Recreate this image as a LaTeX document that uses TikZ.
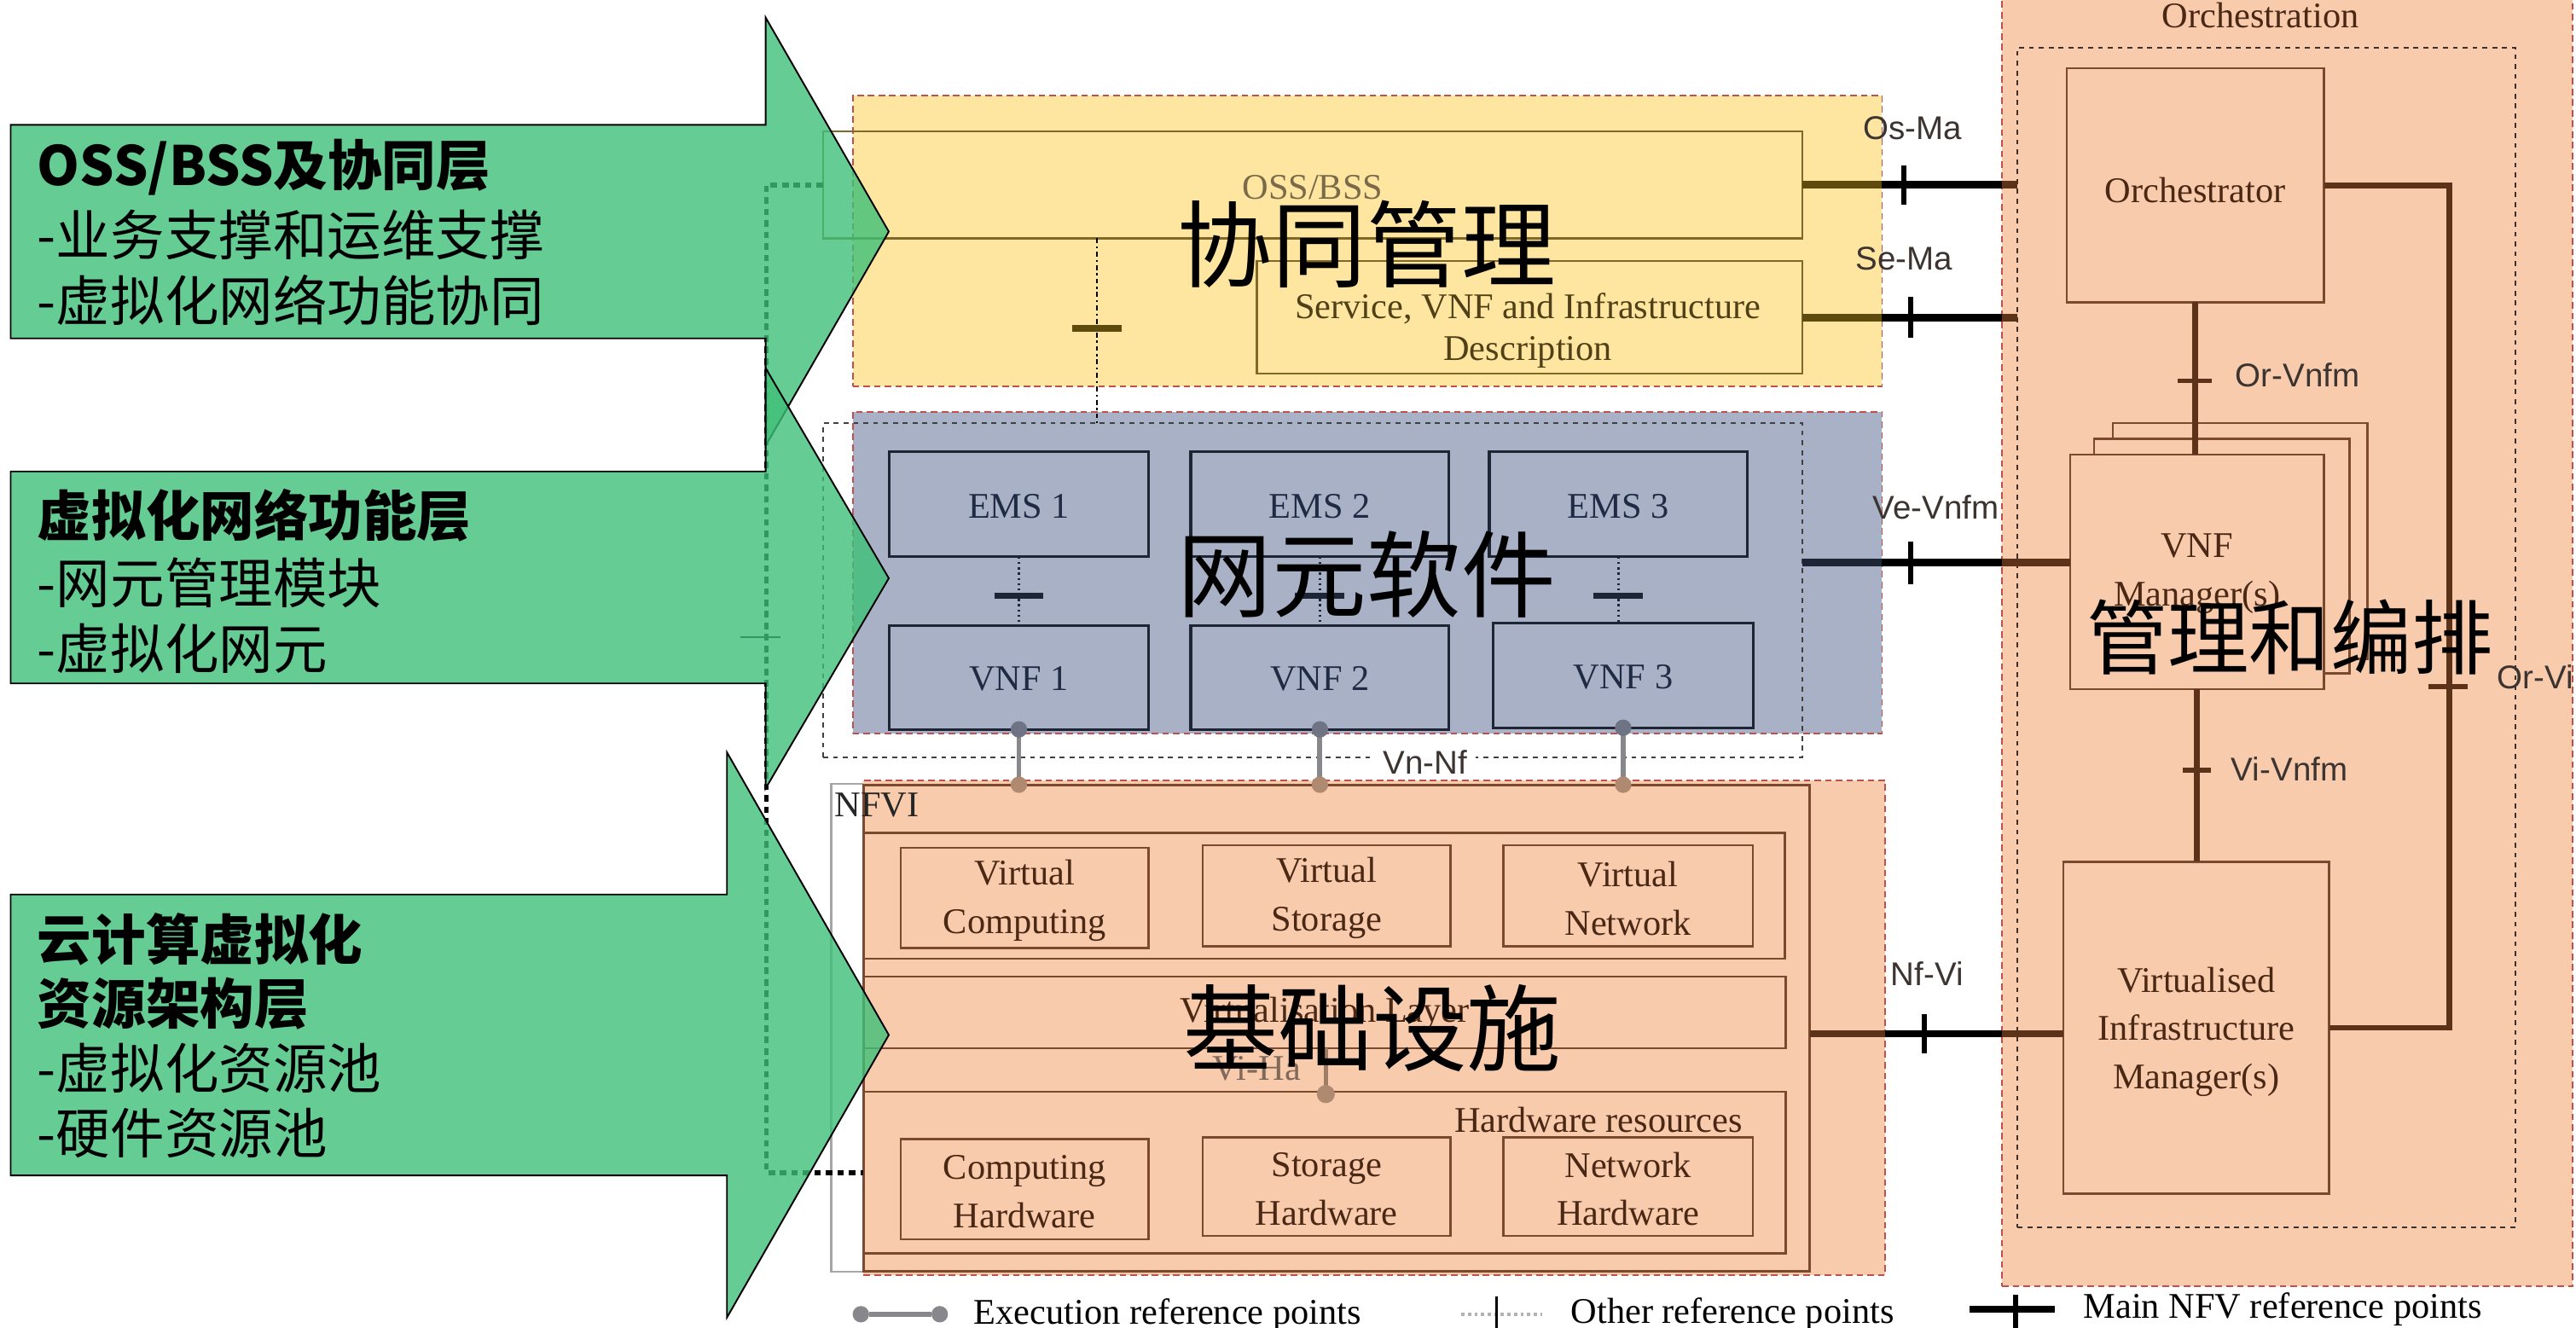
\documentclass[tikz,border=0pt]{standalone}
\usepackage{fontspec}
\setmainfont{Liberation Serif}
\newfontfamily\sansf{Liberation Sans}
\newfontfamily\cjk{Noto Sans CJK SC}
\usetikzlibrary{fit,calc}

\definecolor{arrowgreen}{RGB}{62,192,120}
\definecolor{layeryellow}{RGB}{255,230,160}
\definecolor{layerblue}{RGB}{169,177,198}
\definecolor{layersalmon}{RGB}{248,203,173}
\definecolor{zonered}{RGB}{192,80,77}
\definecolor{oliveline}{RGB}{94,74,12}
\definecolor{yboxline}{RGB}{128,104,40}
\definecolor{navyline}{RGB}{30,38,54}
\definecolor{brownline}{RGB}{92,50,24}
\definecolor{boxbrown}{RGB}{123,74,46}
\definecolor{textbrown}{RGB}{74,40,20}
\definecolor{textnavy}{RGB}{31,42,68}
\definecolor{textolive}{RGB}{80,64,24}
\definecolor{textossbss}{RGB}{122,106,74}
\definecolor{refgray}{RGB}{60,52,48}
\definecolor{execgray}{RGB}{135,135,140}
\definecolor{execblue}{RGB}{110,116,132}
\definecolor{execbrown}{RGB}{176,138,112}
\definecolor{darkdash}{RGB}{60,48,44}

\begin{document}
\begin{tikzpicture}[x=1pt,y=-1pt,
  frame/.style={inner sep=0pt,outer sep=0pt},
  zone/.style={frame,draw=zonered,line width=1pt,dash pattern=on 4pt off 2.5pt},
  ybox/.style={frame,draw=yboxline,line width=1.3pt},
  nbox/.style={frame,draw=navyline,line width=1.6pt},
  sbox/.style={frame,draw=boxbrown,line width=1.3pt},
  txt/.style={inner sep=0pt,font=\fontsize{22}{29.5}\selectfont,align=center},
  ntxt/.style={txt,text=textnavy},
  btxt/.style={txt,text=textbrown},
  reflbl/.style={inner sep=0pt,font=\sansf\fontsize{20}{22}\selectfont,text=refgray},
  bigcn/.style={inner sep=0pt,font=\cjk\fontsize{57.5}{60}\selectfont},
  armhead/.style={inner sep=0pt,anchor=west,font=\cjk\bfseries\fontsize{33}{40}\selectfont},
  armsub/.style={inner sep=0pt,anchor=west,font=\cjk\fontsize{33}{40}\selectfont},
  layerarrow/.style={fill=arrowgreen,fill opacity=0.8,draw=black,line width=1pt},
  mainlink/.style={line width=4.5pt},
  maintick/.style={line width=3pt,draw=black},
  innerlink/.style={line width=3.5pt,draw=brownline},
  innertick/.style={line width=3pt,draw=brownline},
  otherlink/.style={line width=1.2pt,dotted,draw=navyline},
  othertick/.style={line width=3.5pt,draw=navyline},
  execlink/.style={line width=3pt,draw=execgray},
  execdot/.style={circle,fill=#1,inner sep=0pt,outer sep=0pt,minimum size=10pt},
]
\useasboundingbox (0,0) rectangle (1568,808);

% ---------- management and orchestration zone ----------
\node[zone,fill=layersalmon,fit={(1218.6,-5) (1566,783)}] (mano) {};
\node[frame,draw=darkdash,dashed,line width=1pt,fit={(1228,29) (1531,747)}] (manoin) {};
\node[btxt] (manolbl) at (1376,9.5) {Orchestration};

% ---------- layer zones ----------
\node[zone,fill=layeryellow,fit={(519,58) (1145.6,235)}] (osszone) {};
\node[zone,fill=layerblue,fit={(519,250.6) (1145.6,446.5)}] (vnfzone) {};
\node[frame,draw=gray!70,line width=1.2pt,fill=white,fit={(506,477) (1101.6,774)}] (nfvi) {};
\node[zone,fill=layersalmon,fit={(525.6,475) (1147.5,776)}] (nfvizone) {};
\node[frame,draw=boxbrown,line width=1.5pt,fit={(525.6,477.7) (1101.6,774)}] (nfvibody) {};
\node[txt,anchor=west,text=black!85] (nfvilbl) at (508,490) {NFVI};

% ---------- OSS/BSS layer ----------
\node[ybox,fit={(501,80) (1097,145)}] (oss) {};
\node[txt,text=textossbss] (osslbl) at (799,114) {OSS/BSS};
\node[ybox,fit={(765,159) (1097,227.5)}] (svc) {};
\node[txt,text=textolive] (svc1) at (930,188) {Service, VNF and Infrastructure};
\node[txt,text=textolive] (svc2) at (930,214.5) {Description};

% ---------- VNF layer ----------
\node[frame,draw=black!75,dashed,line width=1.2pt,fit={(501,257.5) (1097,461)}] (vnfdom) {};
\node[nbox,fit={(541.4,275) (699,339)}] (ems1) {};
\node[nbox,fit={(724.8,275) (882,339)}] (ems2) {};
\node[nbox,fit={(906.5,275) (1063.7,339)}] (ems3) {};
\node[nbox,fit={(541.4,380.7) (699,444)}] (vnf1) {};
\node[nbox,fit={(724.8,380.7) (882,444)}] (vnf2) {};
\node[nbox,fit={(909,379.4) (1067,443)}] (vnf3) {};
\node[ntxt] (ems1t) at ($(ems1.center)+(0,1)$) {EMS 1};
\node[ntxt] (ems2t) at ($(ems2.center)+(0,1)$) {EMS 2};
\node[ntxt] (ems3t) at ($(ems3.center)+(0,1)$) {EMS 3};
\node[ntxt] (vnf1t) at ($(vnf1.center)+(0,1)$) {VNF 1};
\node[ntxt] (vnf2t) at ($(vnf2.center)+(0,1)$) {VNF 2};
\node[ntxt] (vnf3t) at ($(vnf3.center)+(0,1)$) {VNF 3};

% ---------- NFVI ----------
\node[sbox,fit={(525.6,507) (1086.5,583.6)}] (virtres) {};
\node[sbox,fit={(548.3,516) (699,577)}] (vcomp) {};
\node[sbox,fit={(732,514.6) (883,576)}] (vstor) {};
\node[sbox,fit={(915,514.6) (1067,576)}] (vnet) {};
\node[btxt] (vcompt) at ($(vcomp.center)+(0,1.5)$) {Virtual\\Computing};
\node[btxt] (vstort) at ($(vstor.center)+(0,1.5)$) {Virtual\\Storage};
\node[btxt] (vnett) at ($(vnet.center)+(0,1.5)$) {Virtual\\Network};
\node[sbox,fit={(525.6,594.5) (1087,638)}] (vlayer) {};
\node[btxt] (vlayert) at ($(vlayer.center)+(0,1)$) {Virtualisation Layer};
\node[sbox,fit={(525.6,664.6) (1087,763)}] (hwres) {};
\node[btxt] (hwlbl) at (973,681.5) {Hardware resources};
\node[sbox,fit={(548.3,693.5) (699,754.4)}] (hcomp) {};
\node[sbox,fit={(732,692.4) (883,752.2)}] (hstor) {};
\node[sbox,fit={(915,692.4) (1067,752.2)}] (hnet) {};
\node[btxt] (hcompt) at ($(hcomp.center)+(0,1.5)$) {Computing\\Hardware};
\node[btxt] (hstort) at ($(hstor.center)+(0,1.5)$) {Storage\\Hardware};
\node[btxt] (hnett) at ($(hnet.center)+(0,1.5)$) {Network\\Hardware};

% ---------- MANO boxes ----------
\node[sbox,fit={(1258,41.6) (1414.6,184)}] (orch) {};
\node[btxt] (orcht) at ($(orch.center)+(0,3)$) {Orchestrator};
\node[sbox,fill=layersalmon,fit={(1286,257.5) (1441,401)}] (vnfmC) {};
\node[sbox,fill=layersalmon,fit={(1274.7,267) (1430,410)}] (vnfmB) {};
\node[sbox,fill=layersalmon,fit={(1260,276.8) (1414.6,419.6)}] (vnfm) {};
\node[btxt] (vnfmt) at ($(vnfm.center)+(0,1)$) {VNF\\Manager(s)};
\node[sbox,fit={(1256,524.6) (1417.8,726.6)}] (vim) {};
\node[btxt] (vimt) at ($(vim.center)+(0,2.5)$) {Virtualised\\Infrastructure\\Manager(s)};

% ---------- main reference points ----------
% Os-Ma
\coordinate (osmaA) at (oss.east -| osszone.east);
\coordinate (osmaB) at (oss.east -| mano.west);
\coordinate (osmaC) at (oss.east -| manoin.west);
\draw[mainlink,oliveline] (oss.east) -- (osmaA);
\draw[mainlink,black] (osmaA) -- (osmaB);
\draw[mainlink,brownline] (osmaB) -- (osmaC);
\draw[maintick] ($(osmaA)+(13.4,-12)$) -- ++(0,24);
\node[reflbl] (lOsMa) at (1164,78) {Os-Ma};
% Se-Ma
\coordinate (semaA) at (svc.east -| osszone.east);
\coordinate (semaB) at (svc.east -| mano.west);
\coordinate (semaC) at (svc.east -| manoin.west);
\draw[mainlink,oliveline] (svc.east) -- (semaA);
\draw[mainlink,black] (semaA) -- (semaB);
\draw[mainlink,brownline] (semaB) -- (semaC);
\draw[maintick] ($(semaA)+(17.4,-12.5)$) -- ++(0,25);
\node[reflbl] (lSeMa) at (1159,157.6) {Se-Ma};
% Ve-Vnfm
\coordinate (veA) at (1097,342.5);
\coordinate (veB) at (veA -| vnfzone.east);
\coordinate (veC) at (veA -| mano.west);
\coordinate (veD) at (veA -| vnfm.west);
\draw[mainlink,navyline] (veA) -- (veB);
\draw[mainlink,black] (veB) -- (veC);
\draw[mainlink,brownline] (veC) -- (veD);
\draw[maintick] ($(veB)+(17.4,-13)$) -- ++(0,26);
\node[reflbl] (lVeVnfm) at (1178.5,308.6) {Ve-Vnfm};
% Nf-Vi
\coordinate (nfA) at (1101.6,629.3);
\coordinate (nfB) at (nfA -| nfvizone.east);
\coordinate (nfC) at (nfA -| mano.west);
\coordinate (nfD) at (nfA -| vim.west);
\draw[mainlink,brownline] (nfA) -- (nfB);
\draw[mainlink,black] (nfB) -- (nfC);
\draw[mainlink,brownline] (nfC) -- (nfD);
\draw[maintick] ($(nfB)+(23.9,-12)$) -- ++(0,24);
\node[reflbl] (lNfVi) at (1173,592.8) {Nf-Vi};

% ---------- links inside MANO ----------
\draw[innerlink] (orch.south) -- (orch.south |- vnfm.north);
\draw[innertick] ($(orch.south)+(-11,47.8)$) -- ++(21,0);
\node[reflbl,anchor=west] (lOrVnfm) at (1360.5,228.4) {Or-Vnfm};
\draw[innerlink] (vnfm.south) -- (vnfm.south |- vim.north);
\draw[innertick] ($(vnfm.south)+(-8.5,49.4)$) -- ++(17,0);
\node[reflbl,anchor=west] (lViVnfm) at (1358,468) {Vi-Vnfm};
\coordinate (orviTop) at (1491,112.8);
\draw[innerlink] (orch.east) -- (orviTop) |- (vim.east);
\draw[innertick] ($(orviTop)+(-13,305.2)$) -- ++(24,0);
\node[reflbl,anchor=west] (lOrVi) at (1520,412) {Or-Vi};

% ---------- other reference points ----------
\coordinate (ossD) at (667.7,145);
\draw[black,line width=1.2pt,dash dot] (ossD) -- (ossD |- vnfdom.north);
\draw[oliveline,line width=4pt] ($(ossD)+(-15,55)$) -- ++(30,0);
\foreach \e/\v in {ems1/vnf1,ems2/vnf2,ems3/vnf3}{
  \draw[otherlink] (\e.south) -- (\e.south |- \v.north);
  \draw[othertick] ($(\e.south)+(-15,23.5)$) -- ++(30,0);
}

% ---------- execution reference points ----------
\foreach \v/\n in {vnf1/a,vnf2/b,vnf3/c}{
  \coordinate (exTop\n) at (\v.south);
  \coordinate (exBot\n) at (\v.south |- nfvibody.north);
  \draw[execlink] (exTop\n) -- (exBot\n);
  \node[execdot=execblue] at (exTop\n) {};
  \node[execdot=execbrown] at (exBot\n) {};
}
\node[reflbl,fill=white,inner xsep=5pt] (lVnNf) at (867.6,463.7) {Vn-Nf};
\coordinate (viha) at (807,666);
\draw[line width=2.5pt,draw=execbrown!90!black] (vlayer.south -| viha) -- (viha);
\node[execdot=execbrown,minimum size=11pt] (vihadot) at (viha) {};
\node[txt,text=textbrown!70] (lViHa) at (765,650.7) {Vi-Ha};

% ---------- overlay titles ----------
\node[bigcn] (cn1) at (832,148.8) {协同管理};
\node[bigcn] (cn2) at (832,349.5) {网元软件};
\node[bigcn] (cn3) at (835.5,626) {基础设施};
\node[bigcn,font=\cjk\fontsize{49.5}{52}\selectfont] (cn4) at (1393.8,387.7) {管理和编排};

% ---------- cross-layer link under the arrows ----------
\coordinate (gdTop) at (466.5,112.5);
\draw[black,line width=3pt,dash pattern=on 4pt off 3pt] (oss.west) -- (gdTop) |- (hwres.west);
\draw[black,line width=1.2pt] ($(gdTop)+(-15.8,275.5)$) -- ++(24.3,0);

% ---------- layer arrows ----------
\path[layerarrow] (6.5,76) -- (466,76) -- (466,10.6) -- (541,141) -- (466,271.4) -- (466,206) -- (6.5,206) -- cycle;
\path[layerarrow] (6.5,287) -- (466,287) -- (466,224) -- (541,352) -- (466,480) -- (466,416) -- (6.5,416) -- cycle;
\path[layerarrow] (6.5,544.5) -- (442.5,544.5) -- (442.5,458) -- (541,630) -- (442.5,802) -- (442.5,715.5) -- (6.5,715.5) -- cycle;

\node[armhead] (t1) at (22.6,102) {OSS/BSS及协同层};
\node[armsub] (t1a) at (22.6,143) {-业务支撑和运维支撑};
\node[armsub] (t1b) at (22.6,183) {-虚拟化网络功能协同};
\node[armhead] (t2) at (22.6,314) {虚拟化网络功能层};
\node[armsub] (t2a) at (22.6,355) {-网元管理模块};
\node[armsub] (t2b) at (22.6,395) {-虚拟化网元};
\node[armhead] (t3) at (22.6,572) {云计算虚拟化};
\node[armhead] (t3a) at (22.6,611) {资源架构层};
\node[armsub] (t3b) at (22.6,650) {-虚拟化资源池};
\node[armsub] (t3c) at (22.6,690) {-硬件资源池};

% ---------- legend ----------
\node[execdot=execgray] (lgA) at (524,800) {};
\node[execdot=execgray] (lgB) at (572,800) {};
\draw[execlink] (lgA) -- (lgB);
\node[txt,anchor=west] (lgExec) at (592.6,800.5) {Execution reference points};
\coordinate (lgO1) at (889.5,800);
\coordinate (lgO2) at (938.7,800);
\draw[gray!60,line width=2pt,dotted] (lgO1) -- (lgO2);
\coordinate (lgOt) at (911,789);
\draw[black,line width=1.8pt] (lgOt) -- ++(0,22);
\node[txt,anchor=west] (lgOther) at (956,800) {Other reference points};
\coordinate (lgM1) at (1199,797);
\coordinate (lgM2) at (1251,797);
\draw[mainlink,black] (lgM1) -- (lgM2);
\draw[maintick] ($(lgM1)+(27.7,-9)$) -- ++(0,22);
\node[txt,anchor=west] (lgMain) at (1268,797) {Main NFV reference points};
\end{tikzpicture}
\end{document}
